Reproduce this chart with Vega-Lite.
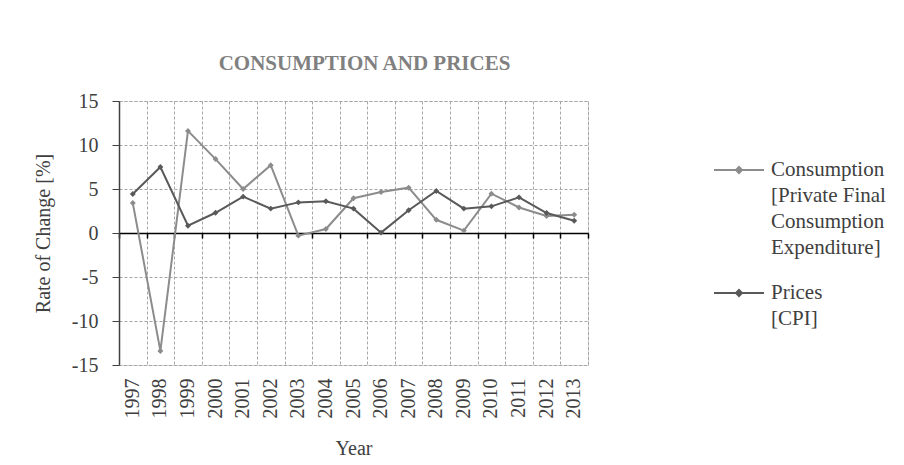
{
  "$schema": "https://vega.github.io/schema/vega-lite/v6.json",
  "width": 469,
  "height": 264,
  "autosize": "none",
  "padding": {"left": 119, "top": 101, "right": 316, "bottom": 100},
  "background": "white",
  "title": {"text": "CONSUMPTION AND PRICES", "font": "Liberation Serif", "fontSize": 21, "fontWeight": "bold", "color": "#808080", "anchor": "middle", "dx": 11, "offset": 17},
  "data": {"values": [
    {"year": "1997", "series": "Consumption", "value": 3.4},
    {"year": "1998", "series": "Consumption", "value": -13.4},
    {"year": "1999", "series": "Consumption", "value": 11.6},
    {"year": "2000", "series": "Consumption", "value": 8.4},
    {"year": "2001", "series": "Consumption", "value": 5.0},
    {"year": "2002", "series": "Consumption", "value": 7.7},
    {"year": "2003", "series": "Consumption", "value": -0.3},
    {"year": "2004", "series": "Consumption", "value": 0.45},
    {"year": "2005", "series": "Consumption", "value": 3.95},
    {"year": "2006", "series": "Consumption", "value": 4.65},
    {"year": "2007", "series": "Consumption", "value": 5.15},
    {"year": "2008", "series": "Consumption", "value": 1.5},
    {"year": "2009", "series": "Consumption", "value": 0.27},
    {"year": "2010", "series": "Consumption", "value": 4.47},
    {"year": "2011", "series": "Consumption", "value": 2.9},
    {"year": "2012", "series": "Consumption", "value": 1.93},
    {"year": "2013", "series": "Consumption", "value": 2.08},
    {"year": "1997", "series": "Prices", "value": 4.43},
    {"year": "1998", "series": "Prices", "value": 7.5},
    {"year": "1999", "series": "Prices", "value": 0.83},
    {"year": "2000", "series": "Prices", "value": 2.3},
    {"year": "2001", "series": "Prices", "value": 4.13},
    {"year": "2002", "series": "Prices", "value": 2.77},
    {"year": "2003", "series": "Prices", "value": 3.48},
    {"year": "2004", "series": "Prices", "value": 3.6},
    {"year": "2005", "series": "Prices", "value": 2.77},
    {"year": "2006", "series": "Prices", "value": 0.04},
    {"year": "2007", "series": "Prices", "value": 2.58},
    {"year": "2008", "series": "Prices", "value": 4.77},
    {"year": "2009", "series": "Prices", "value": 2.77},
    {"year": "2010", "series": "Prices", "value": 3.03},
    {"year": "2011", "series": "Prices", "value": 4.05},
    {"year": "2012", "series": "Prices", "value": 2.27},
    {"year": "2013", "series": "Prices", "value": 1.4}
  ]},
  "layer": [
    {
      "mark": {"type": "line", "strokeWidth": 2},
      "encoding": {
        "x": {"field": "year", "type": "ordinal", "scale": {"paddingInner": 0, "paddingOuter": 0},
          "axis": {"orient": "bottom", "title": "Year", "labelAngle": -90, "ticks": false, "domain": false, "grid": false, "labelFont": "Liberation Serif", "labelFontSize": 20, "labelColor": "#404040", "labelPadding": 13, "titleFont": "Liberation Serif", "titleFontSize": 20, "titleFontWeight": "normal", "titleColor": "#404040", "titlePadding": 20}},
        "y": {"field": "value", "type": "quantitative", "scale": {"domain": [-15, 15], "nice": false, "zero": false},
          "axis": {"title": "Rate of Change [%]", "values": [-15, -12.5, -10, -7.5, -5, -2.5, 0, 2.5, 5, 7.5, 10, 12.5, 15],
            "labelExpr": "datum.value % 5 === 0 ? '' + datum.value : ''",
            "grid": true, "gridDash": [3, 2], "gridColor": "#a6a6a6", "gridWidth": 1,
            "tickColor": {"condition": {"test": "datum.value % 5 === 0", "value": "#404040"}, "value": "transparent"},
            "tickSize": 7, "domainColor": "#404040", "domainWidth": 1.5,
            "labelFont": "Liberation Serif", "labelFontSize": 20, "labelColor": "#404040", "labelPadding": 14,
            "titleFont": "Liberation Serif", "titleFontSize": 20, "titleFontWeight": "normal", "titleColor": "#404040", "titlePadding": 18}},
        "color": {"field": "series", "type": "nominal",
          "scale": {"domain": ["Consumption", "Prices"], "range": ["#8c8c8c", "#595959"]},
          "legend": {"orient": "none", "legendX": 594, "legendY": 43, "title": null,
            "symbolType": "M-1,0H1M0,-0.12L0.12,0L0,0.12L-0.12,0Z", "symbolSize": 2500, "symbolStrokeWidth": 2,
            "labelExpr": "datum.label == 'Consumption' ? ['Consumption', '[Private Final', 'Consumption', 'Expenditure]'] : ['Prices', '[CPI]']",
            "labelFont": "Liberation Serif", "labelFontSize": 21, "labelColor": "#404040", "labelOffset": 6, "labelLimit": 300,
            "rowPadding": 9}}
      }
    },
    {
      "mark": {"type": "point", "shape": "diamond", "filled": true, "size": 35, "opacity": 1},
      "encoding": {
        "x": {"field": "year", "type": "ordinal",
          "axis": {"orient": "bottom", "offset": -132, "title": null, "labels": false, "ticks": true, "tickSize": 5, "tickColor": "#000000", "domainColor": "#000000", "domainWidth": 1.5, "tickWidth": 1.5, "grid": true, "gridDash": [3, 2], "gridColor": "#a6a6a6", "tickBand": "extent"}},
        "y": {"field": "value", "type": "quantitative"},
        "color": {"field": "series", "type": "nominal", "legend": null}
      }
    }
  ],
  "resolve": {"axis": {"x": "independent"}},
  "config": {
    "view": {"stroke": "#a6a6a6", "strokeDash": [3, 2]},
    "font": "Liberation Serif",
    "style": {"guide-label": {"lineHeight": 26}}
  }
}
